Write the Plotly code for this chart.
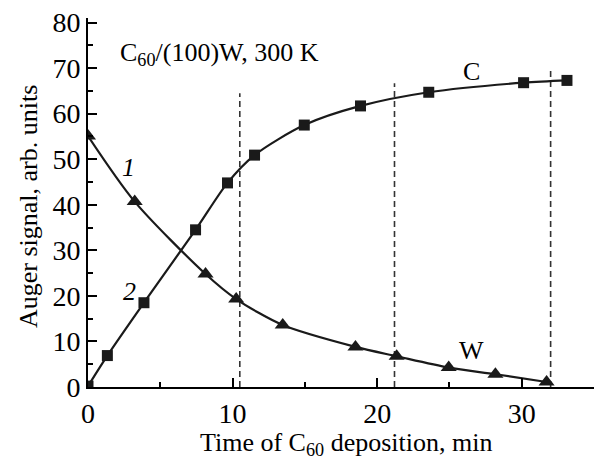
import plotly.graph_objects as go

# Data
c_time = [0.0, 1.34, 3.87, 7.44, 9.65, 11.52, 14.96, 18.85, 23.57, 30.13, 33.13]
c_signal = [0.2, 6.9, 18.5, 34.5, 44.8, 50.9, 57.5, 61.7, 64.7, 66.8, 67.3]
w_time = [0.0, 3.23, 8.13, 10.25, 13.47, 18.5, 21.35, 24.95, 28.18, 31.72]
w_signal = [55.1, 40.7, 24.8, 19.3, 13.6, 8.8, 6.75, 4.26, 2.8, 1.1]
dash_x = [10.5, 21.2, 32.0]
dash_top = [64.5, 66.7, 69.6]
x_ticks = [0, 10, 20, 30]
y_ticks = [0, 10, 20, 30, 40, 50, 60, 70, 80]

FONT = "Liberation Serif"
FS = 26
TFS = 28

fig = go.Figure()

# dashed vertical markers
for xv, top in zip(dash_x, dash_top):
    fig.add_trace(go.Scatter(x=[xv, xv], y=[0, top], mode="lines",
                             line=dict(color="#333333", width=1.6, dash="6px,4px"),
                             showlegend=False, hoverinfo="skip"))

fig.add_trace(go.Scatter(x=c_time, y=c_signal, mode="lines+markers",
                         line=dict(color="#1a1a1a", width=2.2, shape="spline", smoothing=0.8),
                         marker=dict(symbol="square", size=11, color="#1a1a1a"),
                         showlegend=False))
fig.add_trace(go.Scatter(x=w_time, y=w_signal, mode="lines+markers",
                         line=dict(color="#1a1a1a", width=2.2, shape="spline", smoothing=0.8),
                         marker=dict(symbol="triangle-up", size=14, color="#1a1a1a"),
                         showlegend=False))

ann = [
    dict(x=2.05, y=73.1, text="C<sub>60</sub>/(100)W, 300 K", xanchor="left", yanchor="middle"),
    dict(x=26.5, y=69.2, text="C", xanchor="center", yanchor="middle"),
    dict(x=26.5, y=8.1, text="W", xanchor="center", yanchor="middle"),
    dict(x=2.8, y=48.1, text="<i>1</i>", xanchor="center", yanchor="middle"),
    dict(x=2.9, y=21.0, text="<i>2</i>", xanchor="center", yanchor="middle"),
]
for a in ann:
    fig.add_annotation(xref="x", yref="y", showarrow=False,
                       font=dict(family=FONT, size=FS, color="black"), **a)

# axis titles
fig.add_annotation(xref="paper", yref="paper", x=(346 - 88) / 506, y=-(444 - 387) / 369,
                   text="Time of C<sub>60</sub> deposition, min", showarrow=False,
                   xanchor="center", yanchor="middle",
                   font=dict(family=FONT, size=FS, color="black"))
fig.add_annotation(xref="paper", yref="paper", x=-(88 - 28) / 506, y=(387 - 207) / 369,
                   text="Auger signal, arb. units", showarrow=False, textangle=-90,
                   xanchor="center", yanchor="middle",
                   font=dict(family=FONT, size=FS, color="black"))

axis_common = dict(showgrid=False, zeroline=False, showline=True, linecolor="black",
                   linewidth=2, ticks="inside", tickcolor="black", tickwidth=1.6,
                   ticklen=9, tickfont=dict(family=FONT, size=TFS, color="black"))

fig.update_xaxes(range=[0, 35], tickvals=x_ticks, ticktext=[str(v) for v in x_ticks],
                 minor=dict(ticks="inside", dtick=5, ticklen=5, tickcolor="black", tickwidth=1.6),
                 **axis_common)
fig.update_yaxes(range=[0, 81], tickvals=y_ticks, ticktext=[str(v) for v in y_ticks],
                 minor=dict(ticks="inside", dtick=5, ticklen=5, tickcolor="black", tickwidth=1.6),
                 **axis_common)

fig.update_layout(width=601, height=462, margin=dict(l=88, r=7, t=18, b=75),
                  plot_bgcolor="white", paper_bgcolor="white",
                  font=dict(family=FONT, size=FS, color="black"))

fig.write_html("out.html")
